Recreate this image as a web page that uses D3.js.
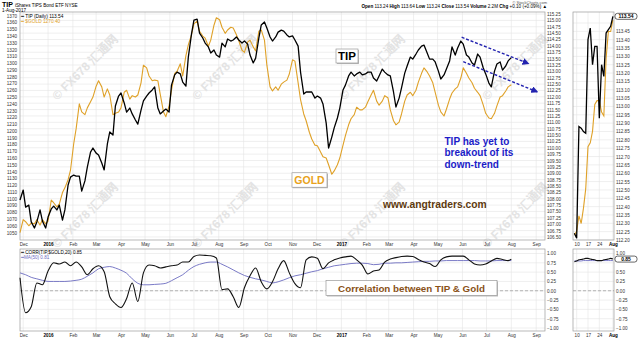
<!DOCTYPE html>
<html><head><meta charset="utf-8">
<script src="https://cdn.jsdelivr.net/npm/d3@7"></script>
<style>
html,body{margin:0;padding:0;background:#fff;}
svg{display:block;font-family:"Liberation Sans",Arial,sans-serif;}
</style></head><body>
<svg id="c" width="640" height="339"></svg>
<script>
// ---------- DATA ----------
// price dates (twice a week: Tue / Fri)
const priceDates = ["2015-11-27",
"2015-12-01","2015-12-04","2015-12-08","2015-12-11","2015-12-15","2015-12-18","2015-12-22","2015-12-25",
"2015-12-29","2016-01-01","2016-01-05","2016-01-08","2016-01-12","2016-01-15","2016-01-19","2016-01-22","2016-01-26","2016-01-29","2016-02-02","2016-02-05","2016-02-09","2016-02-12","2016-02-16","2016-02-19","2016-02-23","2016-02-26",
"2016-03-01","2016-03-04","2016-03-08","2016-03-11","2016-03-15","2016-03-18","2016-03-22","2016-03-25","2016-03-29","2016-04-01","2016-04-05","2016-04-08","2016-04-12","2016-04-15","2016-04-19","2016-04-22","2016-04-26","2016-04-29",
"2016-05-03","2016-05-06","2016-05-10","2016-05-13","2016-05-17","2016-05-20","2016-05-24","2016-05-27","2016-05-31","2016-06-03","2016-06-07","2016-06-10","2016-06-14","2016-06-17","2016-06-21","2016-06-24","2016-06-28","2016-07-01",
"2016-07-05","2016-07-08","2016-07-12","2016-07-15","2016-07-19","2016-07-22","2016-07-26","2016-07-29","2016-08-02","2016-08-05","2016-08-09","2016-08-12","2016-08-16","2016-08-19","2016-08-23","2016-08-26","2016-08-30","2016-09-02",
"2016-09-06","2016-09-09","2016-09-13","2016-09-16","2016-09-20","2016-09-23","2016-09-27","2016-09-30","2016-10-04","2016-10-07","2016-10-11","2016-10-14","2016-10-18","2016-10-21","2016-10-25","2016-10-28",
"2016-11-01","2016-11-04","2016-11-08","2016-11-11","2016-11-15","2016-11-18","2016-11-22","2016-11-25","2016-11-29","2016-12-02","2016-12-06","2016-12-09","2016-12-13","2016-12-16","2016-12-20","2016-12-23","2016-12-27","2016-12-30",
"2017-01-03","2017-01-06","2017-01-10","2017-01-13","2017-01-17","2017-01-20","2017-01-24","2017-01-27","2017-01-31","2017-02-03","2017-02-07","2017-02-10","2017-02-14","2017-02-17","2017-02-21","2017-02-24","2017-02-28","2017-03-03",
"2017-03-07","2017-03-10","2017-03-14","2017-03-17","2017-03-21","2017-03-24","2017-03-28","2017-03-31","2017-04-04","2017-04-07","2017-04-11","2017-04-14","2017-04-18","2017-04-21","2017-04-25","2017-04-28",
"2017-05-02","2017-05-05","2017-05-09","2017-05-12","2017-05-16","2017-05-19","2017-05-23","2017-05-26","2017-05-30","2017-06-02","2017-06-06","2017-06-09","2017-06-13","2017-06-16","2017-06-20","2017-06-23","2017-06-27","2017-06-30",
"2017-07-04","2017-07-07","2017-07-11","2017-07-14","2017-07-18","2017-07-21","2017-07-25","2017-07-28","2017-08-01"];

const tipClose = [107.95,
108.34,107.67,107.75,107.09,106.85,107.09,107.56,107.12,
106.85,107.28,107.60,107.71,107.56,107.75,107.16,107.56,108.54,108.85,108.93,108.89,108.89,108.30,108.70,109.24,109.83,109.99,109.79,109.72,
109.40,109.13,110.15,110.62,110.50,111.64,112.03,112.15,111.76,111.40,111.56,111.33,111.09,110.93,111.48,111.84,112.03,112.15,112.27,112.39,
111.56,111.33,111.44,111.52,111.40,112.46,112.86,112.97,112.90,112.58,112.42,113.56,114.47,115.01,115.05,114.50,114.31,114.11,113.96,113.72,
113.84,113.64,113.56,114.11,113.96,114.27,114.19,114.23,114.35,114.23,114.11,114.19,114.07,113.64,113.33,113.52,114.31,114.82,114.94,114.70,
114.35,114.19,114.35,114.54,114.62,114.58,114.43,114.35,114.39,114.23,113.99,112.97,112.11,112.19,112.19,112.19,111.95,112.03,111.95,111.72,
110.97,109.99,110.42,110.78,111.17,111.56,112.27,112.46,112.82,112.97,112.82,112.90,112.97,112.86,112.90,112.97,112.97,112.74,112.62,112.82,
113.09,112.97,112.86,112.82,112.19,111.60,111.95,112.35,112.93,113.21,113.56,113.48,113.68,113.84,113.99,114.03,113.72,113.48,113.48,113.37,
113.01,112.70,112.86,113.09,113.41,113.96,113.64,113.92,114.19,114.07,113.64,113.56,113.33,113.25,113.68,113.56,113.13,112.90,112.54,112.39,
113.01,113.29,113.37,113.05,113.21,113.41,
113.54];

const goldClose = [1050,
1069,1066,1060,1064,1063,1069,1061,1069,
1063,1067,1098,1094,1088,1092,1109,1116,1128,1142,1181,1203,1240,1228,1224,1234,1243,1250,1266,1274,
1265,1250,1262,1253,1224,1226,1228,1234,1257,1260,1247,1252,1250,1253,1271,1297,1293,1281,1274,1275,
1274,1254,1228,1221,1237,1260,1285,1288,1299,1281,1311,1327,1342,1358,1362,1347,1340,1337,1325,1334,
1356,1367,1364,1353,1344,1349,1353,1352,1342,1333,1319,1316,1331,1334,1324,1318,1347,1349,1334,1297,
1265,1259,1265,1260,1269,1272,1275,1284,1305,1303,1271,1246,1225,1215,1198,1188,1179,1178,1169,1162,
1160,1150,1136,1141,1150,1160,1179,1193,1209,1218,1224,1235,1231,1231,1235,1243,1253,1260,1244,1238,
1244,1252,1249,1231,1215,1209,1213,1225,1244,1253,1257,1252,1260,1272,1285,1293,1287,1281,1271,1257,
1238,1228,1222,1232,1247,1256,1262,1265,1278,1293,1285,1278,1271,1263,1257,1252,1238,1226,1219,1218,
1226,1237,1250,1252,1259,1265,
1268];

// indicator dates (weekly)
const corrDates = ["2015-11-27","2015-12-04","2015-12-11","2015-12-18","2015-12-25",
"2016-01-01","2016-01-08","2016-01-15","2016-01-22","2016-01-29","2016-02-05","2016-02-12","2016-02-19","2016-02-26",
"2016-03-04","2016-03-11","2016-03-18","2016-03-25","2016-04-01","2016-04-08","2016-04-15","2016-04-22","2016-04-29",
"2016-05-06","2016-05-13","2016-05-20","2016-05-27","2016-06-03","2016-06-10","2016-06-17","2016-06-24",
"2016-07-01","2016-07-08","2016-07-15","2016-07-22","2016-07-29","2016-08-05","2016-08-12","2016-08-19","2016-08-26",
"2016-09-02","2016-09-09","2016-09-16","2016-09-23","2016-09-30","2016-10-07","2016-10-14","2016-10-21","2016-10-28",
"2016-11-04","2016-11-11","2016-11-18","2016-11-25","2016-12-02","2016-12-09","2016-12-16","2016-12-23","2016-12-30",
"2017-01-06","2017-01-13","2017-01-20","2017-01-27","2017-02-03","2017-02-10","2017-02-17","2017-02-24",
"2017-03-03","2017-03-10","2017-03-17","2017-03-24","2017-03-31","2017-04-07","2017-04-14","2017-04-21","2017-04-28",
"2017-05-05","2017-05-12","2017-05-19","2017-05-26","2017-06-02","2017-06-09","2017-06-16","2017-06-23","2017-06-30",
"2017-07-07","2017-07-14","2017-07-21","2017-07-28","2017-08-01"];

const corr20 = [0.35,-0.59,-0.43,0.21,0.16,
0.53,0.75,0.72,0.77,0.67,0.77,0.64,0.43,0.59,0.67,
0.51,-0.16,-0.35,-0.45,-0.21,0.21,-0.29,0.48,0.69,0.67,
0.61,0.64,0.67,0.69,0.77,0.77,0.92,0.96,0.95,0.94,
0.88,0.03,0.05,-0.16,-0.45,0.08,0.40,0.61,0.24,0.05,
0.24,0.59,0.81,0.48,0.19,0.08,0.83,0.91,0.87,0.59,
0.75,0.83,0.88,0.91,0.93,0.83,0.69,0.45,0.53,0.56,
0.77,0.85,0.89,0.92,0.93,0.92,0.84,0.77,0.73,0.65,
0.83,0.91,0.93,0.93,0.93,0.83,0.72,0.69,0.72,0.80,
0.87,0.84,0.81,0.85];

const corrMA50 = [0.48,0.43,0.36,0.32,0.28,
0.25,0.25,0.25,0.25,0.26,0.28,0.31,0.39,0.48,0.59,
0.63,0.65,0.61,0.55,0.47,0.32,0.20,0.16,0.16,0.17,
0.18,0.20,0.27,0.35,0.43,0.55,0.65,0.71,0.75,0.77,
0.77,0.71,0.64,0.56,0.48,0.41,0.36,0.32,0.29,0.25,
0.21,0.24,0.29,0.35,0.40,0.43,0.47,0.51,0.54,0.59,
0.63,0.67,0.69,0.71,0.73,0.74,0.74,0.73,0.70,0.71,
0.74,0.74,0.75,0.75,0.76,0.77,0.78,0.79,0.79,0.80,
0.80,0.81,0.81,0.81,0.81,0.81,0.81,0.80,0.80,0.80,
0.81,0.81,0.81,0.81];

// inset (last weeks, daily)
const insetDates = ["2017-07-07","2017-07-10","2017-07-11","2017-07-12","2017-07-13","2017-07-14",
"2017-07-17","2017-07-18","2017-07-19","2017-07-20","2017-07-21","2017-07-24","2017-07-25",
"2017-07-26","2017-07-27","2017-07-28","2017-07-31","2017-08-01"];
const insetTip = [112.24,112.21,112.88,112.87,112.85,112.84,113.40,113.47,113.25,113.36,113.36,
112.93,113.25,113.18,113.44,113.46,113.48,113.54];
const insetGold = [1212,1213,1217,1215,1219,1224,1235,1236,1239,1246,1247,1247,1244,1243,1258,1265,1265,1268];
const insetCorr = [0.78,0.80,0.83,0.84,0.85,0.87,0.87,0.85,0.84,0.83,0.81,0.81,0.81,0.83,0.84,0.85,0.87,0.85];
const insetMA = [0.80,0.80,0.80,0.80,0.81,0.81,0.81,0.81,0.81,0.81,0.81,0.81,0.81,0.81,0.81,0.81,0.81,0.81];

// ticks
const goldTicks = [1050,1060,1070,1080,1090,1100,1110,1120,1130,1140,1150,1160,1170,1180,1190,1200,1210,1220,1230,1240,1250,1260,1270,1280,1290,1300,1310,1320,1330,1340,1350,1360,1370];
const tipTicks = [106.5,106.75,107,107.25,107.5,107.75,108,108.25,108.5,108.75,109,109.25,109.5,109.75,110,110.25,110.5,110.75,111,111.25,111.5,111.75,112,112.25,112.5,112.75,113,113.25,113.5,113.75,114,114.25,114.5,114.75,115,115.25];
const insetTicks = [112.2,112.25,112.3,112.35,112.4,112.45,112.5,112.55,112.6,112.65,112.7,112.75,112.8,112.85,112.9,112.95,113,113.05,113.1,113.15,113.2,113.25,113.3,113.35,113.4,113.45,113.5];
const corrTicks = [1,0.75,0.5,0.25,0,-0.25,-0.5,-0.75,-1];
const monthTicks = ["2015-12-01","2016-01-01","2016-02-01","2016-03-01","2016-04-01","2016-05-01","2016-06-01","2016-07-01","2016-08-01","2016-09-01","2016-10-01","2016-11-01","2016-12-01","2017-01-01","2017-02-01","2017-03-01","2017-04-01","2017-05-01","2017-06-01","2017-07-01","2017-08-01","2017-09-01"];
const monthLabels = ["Dec","2016","Feb","Mar","Apr","May","Jun","Jul","Aug","Sep","Oct","Nov","Dec","2017","Feb","Mar","Apr","May","Jun","Jul","Aug","Sep"];
const insetTickDates = ["2017-07-10","2017-07-17","2017-07-24","2017-08-01"];
const insetTickLabels = ["10","17","24","Aug"];
const trendLines = [
  {d0:"2017-05-31", v0:114.34, d1:"2017-08-22", v1:113.31},
  {d0:"2017-06-02", v0:113.38, d1:"2017-09-02", v1:112.20}
];

// ---------- DRAW ----------
const parse = d3.timeParse("%Y-%m-%d");
const svg = d3.select("#c");
const M = {l:20, r:545, t:12, b:240};
const L = {t:249, b:331};
const I = {l:573, r:614};

const x = d3.scaleTime().domain([parse("2015-11-27"), parse("2017-09-12")]).range([M.l, M.r]);
const yTip = d3.scaleLinear().domain([106.38, 115.33]).range([M.b, M.t]);
const yGold = d3.scaleLinear().domain([1039, 1375.5]).range([M.b, M.t]);
const yCorr = d3.scaleLinear().domain([-1, 1]).range([328, 253.5]);
const xi = d3.scalePoint().domain(insetDates).range([574.4, 612.9]);
const yIn = d3.scaleLinear().domain([112.2, 113.5]).range([240, 23]);
const yInGold = d3.scaleLinear().domain([1212, 1268]).range([235, 20]);

const grid = "#e4e4e4", frame = "#9a9a9a";
const TIPC = "#000", GOLDC = "#dfa128", MAC = "#6b6bbf";

// watermarks (behind)
const wm = svg.append("g").attr("fill", "#e3e3e3").attr("font-size", 12).attr("font-weight", "bold");
[[85,67],[225,67],[372,67],[515,67],[85,215],[225,215],[372,215],[515,215]].forEach(p=>{
  wm.append("text").attr("transform", `translate(${p[0]},${p[1]}) rotate(-45)`).attr("text-anchor","middle")
    .attr("dy","0.35em").text("© FX678 汇通网");
});

// gridlines main
const gMain = svg.append("g");
gMain.selectAll(".hg").data(tipTicks).join("line")
  .attr("x1", M.l).attr("x2", M.r).attr("y1", d=>yTip(d)).attr("y2", d=>yTip(d)).attr("stroke", grid).attr("stroke-width", 0.6);
gMain.selectAll(".vg").data(monthTicks).join("line")
  .attr("x1", d=>x(parse(d))).attr("x2", d=>x(parse(d))).attr("y1", M.t).attr("y2", M.b).attr("stroke", grid).attr("stroke-width", 0.6);
const gLow = svg.append("g");
gLow.selectAll("line.h").data(corrTicks).join("line")
  .attr("x1", M.l).attr("x2", M.r).attr("y1", d=>yCorr(d)).attr("y2", d=>yCorr(d)).attr("stroke", grid).attr("stroke-width", 0.6);
gLow.selectAll("line.v").data(monthTicks).join("line").attr("class","v")
  .attr("x1", d=>x(parse(d))).attr("x2", d=>x(parse(d))).attr("y1", L.t).attr("y2", L.b).attr("stroke", grid).attr("stroke-width", 0.6);
svg.append("line").attr("x1", M.l).attr("x2", M.r).attr("y1", yCorr(0)).attr("y2", yCorr(0))
  .attr("stroke", "#888").attr("stroke-width", 0.6).attr("stroke-dasharray", "3,2");

const gIn = svg.append("g");
gIn.selectAll("line.h").data(insetTicks).join("line")
  .attr("x1", I.l).attr("x2", I.r).attr("y1", d=>yIn(d)).attr("y2", d=>yIn(d)).attr("stroke", grid).attr("stroke-width", 0.6);
gIn.selectAll("line.v").data(insetTickDates).join("line").attr("class","v")
  .attr("x1", d=>xi(d)).attr("x2", d=>xi(d)).attr("y1", M.t).attr("y2", M.b).attr("stroke", grid).attr("stroke-width", 0.6);
const gIn2 = svg.append("g");
gIn2.selectAll("line.h").data(corrTicks).join("line")
  .attr("x1", I.l).attr("x2", I.r).attr("y1", d=>yCorr(d)).attr("y2", d=>yCorr(d)).attr("stroke", grid).attr("stroke-width", 0.6);
gIn2.selectAll("line.v").data(insetTickDates).join("line").attr("class","v")
  .attr("x1", d=>xi(d)).attr("x2", d=>xi(d)).attr("y1", L.t).attr("y2", L.b).attr("stroke", grid).attr("stroke-width", 0.6);
svg.append("line").attr("x1", I.l).attr("x2", I.r).attr("y1", yCorr(0)).attr("y2", yCorr(0))
  .attr("stroke", "#888").attr("stroke-width", 0.6).attr("stroke-dasharray", "3,2");

// frames
[[M.l,M.t,M.r-M.l,M.b-M.t],[M.l,L.t,M.r-M.l,L.b-L.t],[I.l,M.t,I.r-I.l,M.b-M.t],[I.l,L.t,I.r-I.l,L.b-L.t]].forEach(r=>{
  svg.append("rect").attr("x",r[0]).attr("y",r[1]).attr("width",r[2]).attr("height",r[3])
    .attr("fill","none").attr("stroke",frame).attr("stroke-width",0.7);
});

// price series
const prows = priceDates.map((d,i)=>({date:parse(d), tip:tipClose[i], gold:goldClose[i]}));
svg.append("path").datum(prows).attr("fill","none").attr("stroke",GOLDC).attr("stroke-width",1.1).attr("stroke-linejoin","round")
  .attr("d", d3.line().x(d=>x(d.date)).y(d=>yGold(d.gold)));
svg.append("path").datum(prows).attr("fill","none").attr("stroke",TIPC).attr("stroke-width",1.3).attr("stroke-linejoin","round")
  .attr("d", d3.line().x(d=>x(d.date)).y(d=>yTip(d.tip)));
// indicator series
const crows = corrDates.map((d,i)=>({date:parse(d), c:corr20[i], ma:corrMA50[i]}));
svg.append("path").datum(crows).attr("fill","none").attr("stroke",MAC).attr("stroke-width",0.9)
  .attr("d", d3.line().curve(d3.curveMonotoneX).x(d=>x(d.date)).y(d=>yCorr(d.ma)));
svg.append("path").datum(crows).attr("fill","none").attr("stroke","#111").attr("stroke-width",1.1)
  .attr("d", d3.line().curve(d3.curveMonotoneX).x(d=>x(d.date)).y(d=>yCorr(d.c)));

// inset series
const irows = insetDates.map((d,i)=>({d, tip:insetTip[i], gold:insetGold[i], c:insetCorr[i], ma:insetMA[i]}));
svg.append("path").datum(irows).attr("fill","none").attr("stroke",GOLDC).attr("stroke-width",1.1)
  .attr("d", d3.line().x(d=>xi(d.d)).y(d=>yInGold(d.gold)));
svg.append("path").datum(irows).attr("fill","none").attr("stroke",TIPC).attr("stroke-width",1.3)
  .attr("d", d3.line().x(d=>xi(d.d)).y(d=>yIn(d.tip)));
svg.append("path").datum(irows).attr("fill","none").attr("stroke",MAC).attr("stroke-width",0.9)
  .attr("d", d3.line().curve(d3.curveMonotoneX).x(d=>xi(d.d)).y(d=>yCorr(d.ma)));
svg.append("path").datum(irows).attr("fill","none").attr("stroke","#111").attr("stroke-width",1.1)
  .attr("d", d3.line().curve(d3.curveMonotoneX).x(d=>xi(d.d)).y(d=>yCorr(d.c)));

// axes
const FS = 4.6;
function styleAxis(g){ g.select(".domain").remove(); g.selectAll("line").remove();
  g.selectAll("text").attr("font-size",FS).attr("fill","#333").attr("font-family","Liberation Sans, Arial, sans-serif"); }
svg.append("g").attr("transform",`translate(17,0)`)
  .call(d3.axisLeft(yGold).tickValues(goldTicks).tickSize(0).tickPadding(0).tickFormat(d3.format("d"))).call(styleAxis);
svg.append("g").attr("transform",`translate(${M.r+2},0)`)
  .call(d3.axisRight(yTip).tickValues(tipTicks).tickSize(0).tickPadding(0).tickFormat(d3.format(".2f"))).call(styleAxis);
svg.append("g").attr("transform",`translate(${M.r+2},0)`)
  .call(d3.axisRight(yCorr).tickValues(corrTicks).tickSize(0).tickPadding(0).tickFormat(d3.format(".2f"))).call(styleAxis);
svg.append("g").attr("transform",`translate(${I.r+2},0)`)
  .call(d3.axisRight(yIn).tickValues(insetTicks.filter(t=>t<113.5)).tickSize(0).tickPadding(0).tickFormat(d3.format(".2f"))).call(styleAxis);
svg.append("g").attr("transform",`translate(${I.r+2},0)`)
  .call(d3.axisRight(yCorr).tickValues(corrTicks.filter(t=>t!==0.75)).tickSize(0).tickPadding(0).tickFormat(d3.format(".2f"))).call(styleAxis);

const mLab = d3.scaleOrdinal().domain(monthTicks).range(monthLabels);
[M.b+2, L.b+1.5].forEach(yy=>{
  const g = svg.append("g").attr("transform",`translate(0,${yy})`)
    .call(d3.axisBottom(x).tickValues(monthTicks.map(parse)).tickSize(0).tickPadding(1)
      .tickFormat(d=>mLab(d3.timeFormat("%Y-%m-%d")(d)))).call(styleAxis);
  g.selectAll("text").attr("font-weight", d=>d.getMonth()===0?"bold":"normal").attr("fill", d=>d.getMonth()===0?"#000":"#333");
  const gi = svg.append("g").attr("transform",`translate(0,${yy})`)
    .call(d3.axisBottom(xi).tickValues(insetTickDates).tickSize(0).tickPadding(1)
      .tickFormat((d,i)=>insetTickLabels[i])).call(styleAxis);
  gi.selectAll("text").attr("font-weight",(d,i)=>i===3?"bold":"normal").attr("fill",(d,i)=>i===3?"#000":"#333");
});

// last value boxes on inset axis
function valBox(yv, txt){
  const g = svg.append("g").attr("transform",`translate(${I.r+1},${yv})`);
  g.append("rect").attr("x",0).attr("y",-3).attr("width",22).attr("height",6).attr("rx",2.5)
    .attr("fill","#fff").attr("stroke","#000").attr("stroke-width",0.6);
  g.append("text").attr("x",11).attr("y",0).attr("dy","0.35em").attr("text-anchor","middle")
    .attr("font-size",FS+0.4).attr("font-weight","bold").text(txt);
}
valBox(yIn(insetTip[insetTip.length-1]), "113.54");
valBox(yCorr(insetCorr[insetCorr.length-1]), "0.85");

// header
const hd = svg.append("g");
hd.append("text").attr("x",2).attr("y",7).attr("font-size",7).attr("font-weight","bold").text("TIP")
  .append("tspan").attr("font-size",4.6).attr("font-weight","normal").attr("dx",2).text("iShares TIPS Bond ETF  NYSE");
hd.append("text").attr("x",2).attr("y",12).attr("font-size",4.6).text("1-Aug-2017");
hd.append("text").attr("x",M.r+2).attr("y",3.5).attr("text-anchor","end").attr("font-size",4).attr("fill","#555").text("© StockCharts.com");
const ohlc = hd.append("text").attr("x",M.r+2).attr("y",8).attr("text-anchor","end").attr("font-size",4.6);
[["Open ",1],["113.24 ",0],["High ",1],["113.64 ",0],["Low ",1],["113.24 ",0],["Close ",1],["113.54 ",0],["Volume ",1],["2.2M ",0],["Chg ",1],["+0.10 (+0.09%) ▲",0]]
  .forEach(p=>ohlc.append("tspan").attr("font-weight",p[1]?"bold":"normal").text(p[0]));
hd.append("text").attr("x",21).attr("y",17.5).attr("font-size",4.8).text("━ TIP (Daily) 113.54");
hd.append("text").attr("x",21).attr("y",22.5).attr("font-size",4.8).attr("fill",GOLDC).text("━ $GOLD 1270.40");
hd.append("text").attr("x",21).attr("y",254).attr("font-size",4.6).text("━ CORR(TIP,$GOLD,20) 0.85");
hd.append("text").attr("x",21).attr("y",259).attr("font-size",4.6).attr("fill",MAC).text("━MA(50) 0.81");

// annotations
const an = svg.append("g");
function boxLabel(cx, cy, w, h, txt, col, fs){
  an.append("rect").attr("x",cx-w/2+1).attr("y",cy-h/2+1).attr("width",w).attr("height",h).attr("fill","#bbb");
  an.append("rect").attr("x",cx-w/2).attr("y",cy-h/2).attr("width",w).attr("height",h).attr("fill","#fff").attr("stroke","#999").attr("stroke-width",0.7);
  an.append("text").attr("x",cx).attr("y",cy).attr("dy","0.36em").attr("text-anchor","middle")
    .attr("font-size",fs).attr("font-weight","bold").attr("fill",col).text(txt);
}
boxLabel(347, 56, 22, 14, "TIP", "#000", 11.5);
boxLabel(309.5, 180, 35, 14.5, "GOLD", "#e8a21c", 10.5);
boxLabel(411.5, 288, 171, 15, "Correlation between TIP & Gold", "#8a5218", 9.8);
const blue = an.append("text").attr("font-size",10).attr("font-weight","bold").attr("fill","#1c1cc8");
["TIP has yet to","breakout of its","down-trend"].forEach((t,i)=>blue.append("tspan").attr("x",444.5).attr("y",144.5+i*11.7).text(t));
an.append("text").attr("x",383).attr("y",207.5).attr("font-size",10.3).attr("font-weight","bold").attr("fill","#5e3a0e").text("www.angtraders.com");

// dashed trend arrows
svg.append("defs").append("marker").attr("id","ah").attr("viewBox","0 0 10 10").attr("refX",8).attr("refY",5)
  .attr("markerWidth",5).attr("markerHeight",5).attr("orient","auto")
  .append("path").attr("d","M0,0 L10,5 L0,10 z").attr("fill","#2323b0");
svg.selectAll(".tl").data(trendLines).join("line")
  .attr("x1",d=>x(parse(d.d0))).attr("y1",d=>yTip(d.v0)).attr("x2",d=>x(parse(d.d1))).attr("y2",d=>yTip(d.v1))
  .attr("stroke","#2323b0").attr("stroke-width",1.4).attr("stroke-dasharray","3,1.8").attr("marker-end","url(#ah)");
</script>
</body></html>
